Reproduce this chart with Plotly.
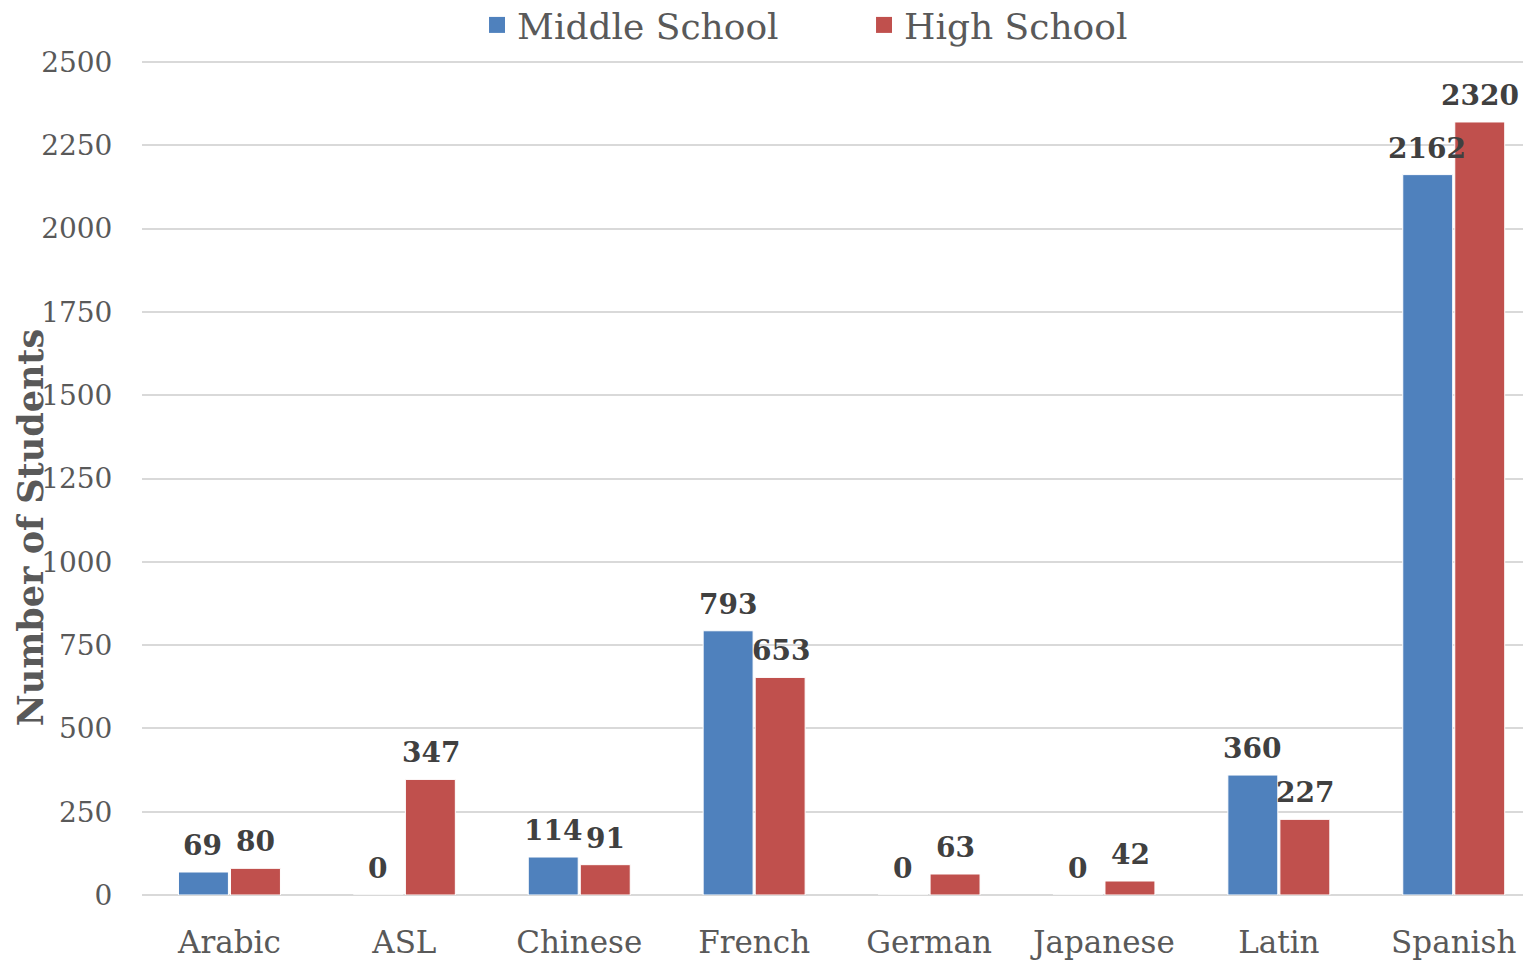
import plotly.graph_objects as go

categories = ["Arabic", "ASL", "Chinese", "French", "German", "Japanese", "Latin", "Spanish"]
middle_school = [69, 0, 114, 793, 0, 0, 360, 2162]
high_school = [80, 347, 91, 653, 63, 42, 227, 2320]
y_ticks = [0, 250, 500, 750, 1000, 1250, 1500, 1750, 2000, 2250, 2500]

FONT = "DejaVu Serif"
BLUE = "#4F81BD"
RED = "#C0504D"
label_font = dict(family=FONT, size=28, color="#404040")

fig = go.Figure()
fig.add_trace(go.Bar(
    name="Middle School", x=categories, y=middle_school, showlegend=False,
    marker=dict(color=BLUE, line=dict(color="white", width=1)),
))
fig.add_trace(go.Bar(
    name="High School", x=categories, y=high_school, showlegend=False,
    marker=dict(color=RED, line=dict(color="white", width=1)),
))
# legend entries with larger square swatches
for name, col in [("Middle School", BLUE), ("High School", RED)]:
    fig.add_trace(go.Scatter(
        name=name, x=[categories[0]], y=[None], mode="markers",
        marker=dict(symbol="square", size=22, color=col), showlegend=True,
    ))

annotations = []
for series, shift in [(middle_school, -26.5), (high_school, 26.5)]:
    for cat, val in zip(categories, series):
        annotations.append(dict(
            x=cat, y=val, xref="x", yref="y", text=f"<b>{val}</b>", showarrow=False,
            xshift=shift, yanchor="bottom", yshift=8, font=label_font,
        ))
annotations.append(dict(text="<b>Number of Students</b>", textangle=-90, xref="paper", yref="paper",
                        x=-0.081, y=0.4369, xanchor="center", yanchor="middle", showarrow=False,
                        font=dict(family=FONT, size=35, color="#595959")))

fig.update_layout(
    width=1523, height=964,
    margin=dict(l=142, r=0, t=55, b=69, autoexpand=False),
    paper_bgcolor="white", plot_bgcolor="white",
    barmode="group", bargap=0.405, bargroupgap=0.04,
    font=dict(family=FONT, color="#595959"),
    legend=dict(orientation="h", x=0.2426, xanchor="left", y=1.0357, yanchor="middle",
                font=dict(family=FONT, size=36, color="#595959"),
                entrywidth=342, entrywidthmode="pixels", traceorder="normal"),
    xaxis=dict(range=[-0.5, 7.396], showgrid=False, showline=False, ticks="outside", ticklen=20,
               tickcolor="rgba(0,0,0,0)", tickfont=dict(family=FONT, size=31, color="#595959")),
    yaxis=dict(range=[0, 2521], tickvals=y_ticks, showgrid=True, gridcolor="#D9D9D9",
               gridwidth=2, zeroline=True, zerolinecolor="#D9D9D9", zerolinewidth=2,
               ticks="outside", ticklen=23, tickcolor="rgba(0,0,0,0)",
               tickfont=dict(family=FONT, size=28, color="#595959")),
    annotations=annotations,
)

fig.write_html("out.html")
